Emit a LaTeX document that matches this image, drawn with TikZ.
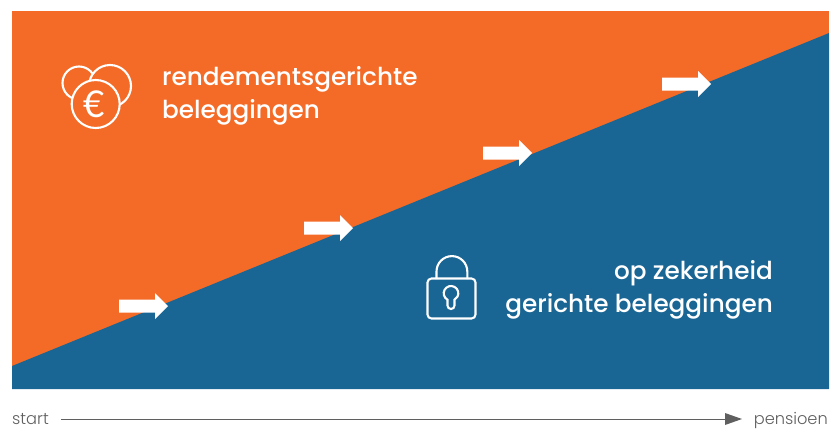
\documentclass[tikz,border=0pt]{standalone}
\usepackage{fontspec}
\setmainfont{Poppins Medium}
\newfontfamily\axisfont{Poppins Light}
\newfontfamily\eurofont{Lato}
\definecolor{oranje}{HTML}{F46B27}
\definecolor{blauw}{HTML}{196695}
\definecolor{grijs}{HTML}{5F5F5F}
\tikzset{
  label text/.style={text=white,inner sep=0pt,font=\fontsize{24.7}{32.5}\selectfont},
  axis text/.style={text=grijs,inner sep=0pt,text height=11pt,text depth=0pt,font=\axisfont\fontsize{16.2}{20}\selectfont},
  icon line/.style={draw=white,line width=2.1pt},
  move arrow/.style={fill=white,draw=none},
  axis line/.style={draw=grijs,line width=0.9pt}
}
\begin{document}
\begin{tikzpicture}[x=1pt,y=-1pt]
\useasboundingbox (0,0) rectangle (840,429);
% vlakken
\fill[oranje] (12,11) rectangle (829,389);
\fill[blauw] (12,366) -- (829,33) -- (829,389) -- (12,389) -- cycle;
% pijlen
\foreach \tx/\ty in {168/306,353/228,532/153,711/84}{
  \path[move arrow,shift={(\tx,\ty)}] (-49,-6.5) -- (-13,-6.5) -- (-13,-13) -- (0,0) -- (-13,13) -- (-13,6.5) -- (-49,6.5) -- cycle;
}
% munten
\draw[icon line] (79,83) circle (16.5);
\draw[icon line,fill=oranje] (110,86) circle (21);
\draw[icon line,fill=oranje] (95.7,104) circle (24);
\node[text=white,inner sep=0pt,font=\eurofont\fontsize{37}{37}\selectfont] (euro) at (94.5,104) {€};
% slot
\draw[icon line] (436.5,279) -- (436.5,271.5) arc[start angle=180,end angle=360,radius=15.4] -- (467.3,279);
\draw[icon line,rounded corners=4pt] (427.5,278.5) rectangle (475.5,318.5);
\draw[icon line] (447.5,299.7) arc[start angle=118.7,end angle=421.3,radius=7.3] -- (454.5,305.5) arc[start angle=0,end angle=180,radius=3.5] -- cycle;
% teksten
\node[label text,align=left,anchor=north west] (rendement) at (162,66.5) {rendementsgerichte\\beleggingen};
\node[label text,align=right,anchor=north east] (zekerheid) at (773,260.5) {op zekerheid\\gerichte beleggingen};
% as
\node[axis text,anchor=west] (start) at (12,419) {start};
\node[axis text,anchor=east] (pensioen) at (828,419) {pensioen};
\fill[grijs] (725,413) -- (742,419) -- (725,425) -- cycle;
\draw[axis line,shorten <=12pt,shorten >=20pt] (start) -- (pensioen);
\end{tikzpicture}
\end{document}
